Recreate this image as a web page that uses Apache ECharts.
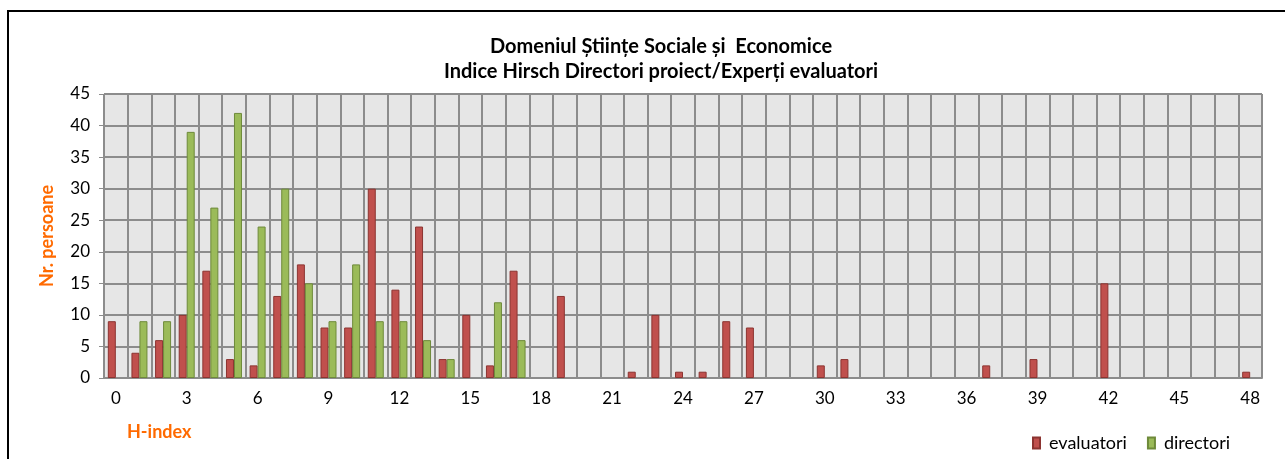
<!DOCTYPE html>
<html>
<head>
<meta charset="utf-8">
<script src="https://cdn.jsdelivr.net/npm/echarts@6/dist/echarts.min.js"></script>
<style>
  html, body { margin: 0; padding: 0; background: #fff; }
  #chart { width: 1285px; height: 459px; }
</style>
</head>
<body>
<div id="chart"></div>
<script>
// H-index categories 0..48
const hIndex = []
for (let i = 0; i <= 48; i++) hIndex.push(String(i))

// numar persoane pe fiecare H-index
const evaluatori = [9, 4, 6, 10, 17, 3, 2, 13, 18, 8, 8, 30, 14, 24, 3, 10, 2, 17, 0, 13,
    0, 0, 1, 10, 1, 1, 9, 8, 0, 0, 2, 3, 0, 0, 0, 0, 0, 2, 0, 3,
    0, 0, 15, 0, 0, 0, 0, 0, 1]
const directori = [0, 9, 9, 39, 27, 42, 24, 30, 15, 9, 18, 9, 9, 6, 3, 0, 12, 6, 0, 0,
    0, 0, 0, 0, 0, 0, 0, 0, 0, 0, 0, 0, 0, 0, 0, 0, 0, 0, 0, 0,
    0, 0, 0, 0, 0, 0, 0, 0, 0]

const titleLines = ['Domeniul Științe Sociale și  Economice', 'Indice Hirsch Directori proiect/Experți evaluatori']

// bare goale nu se deseneaza
const noZero = (arr) => arr.map(v => (v === 0 ? '-' : v))

const font = 'Lato, "Open Sans", sans-serif'
const orange = '#ff6a00'

const option = {
    animation: false,
    textStyle: { fontFamily: font },
    title: {
        text: titleLines.join('\n'),
        left: 656,
        top: 29,
        textAlign: 'center',
        textStyle: { fontFamily: font, fontWeight: 'bold', fontSize: 20, lineHeight: 25, color: '#000' }
    },
    legend: {
        data: ['evaluatori', 'directori'],
        left: 1027,
        top: 429,
        icon: 'rect',
        itemWidth: 7,
        itemHeight: 11,
        itemGap: 20,
        textStyle: { fontFamily: font, fontSize: 18, color: '#000', padding: [0, 0, 0, 4] }
    },
    graphic: [
        // rama graficului
        { type: 'line', shape: { x1: 8, y1: 11, x2: 1285, y2: 11 }, style: { stroke: '#000', lineWidth: 2 } },
        { type: 'line', shape: { x1: 8, y1: 10, x2: 8, y2: 459 }, style: { stroke: '#000', lineWidth: 2 } },
        {
            type: 'text', left: 127, top: 423,
            style: { text: 'H-index', fill: orange, font: 'bold 18px ' + font }
        }
    ],
    grid: { left: 104, right: 23, top: 94, bottom: 81, show: true, backgroundColor: '#e6e6e6', borderWidth: 0 },
    xAxis: {
        type: 'category',
        data: hIndex,
        boundaryGap: true,
        axisLine: { lineStyle: { color: '#8c8c8c', width: 2 } },
        axisTick: { interval: 0, length: 5, lineStyle: { color: '#8c8c8c', width: 1 } },
        axisLabel: { interval: 2, color: '#000', fontSize: 17, margin: 12, fontFamily: font },
        splitLine: { show: true, interval: 0, lineStyle: { color: '#8c8c8c', width: 2 } }
    },
    yAxis: {
        type: 'value',
        min: 0,
        max: 45,
        interval: 5,
        name: 'Nr. persoane',
        nameLocation: 'middle',
        nameGap: 48,
        nameTextStyle: { color: orange, fontWeight: 'bold', fontSize: 18, fontFamily: font },
        axisLine: { show: true, lineStyle: { color: '#8c8c8c', width: 1 } },
        axisTick: { show: true, length: 5, lineStyle: { color: '#8c8c8c' } },
        axisLabel: { color: '#000', fontSize: 17, margin: 14, fontFamily: font },
        splitLine: { show: true, lineStyle: { color: '#8c8c8c', width: 2 } }
    },
    series: [
        {
            name: 'evaluatori',
            type: 'bar',
            data: noZero(evaluatori),
            barWidth: 8,
            barGap: '0%',
            itemStyle: { color: '#c0504d', borderColor: '#8c3431', borderWidth: 1 }
        },
        {
            name: 'directori',
            type: 'bar',
            data: noZero(directori),
            barWidth: 8,
            barGap: '0%',
            itemStyle: { color: '#9bbb59', borderColor: '#6e8a3a', borderWidth: 1 }
        }
    ]
}

const myChart = echarts.init(document.getElementById('chart'))
myChart.setOption(option)
window.addEventListener('resize', () => {
    myChart.resize()
})
</script>
</body>
</html>
